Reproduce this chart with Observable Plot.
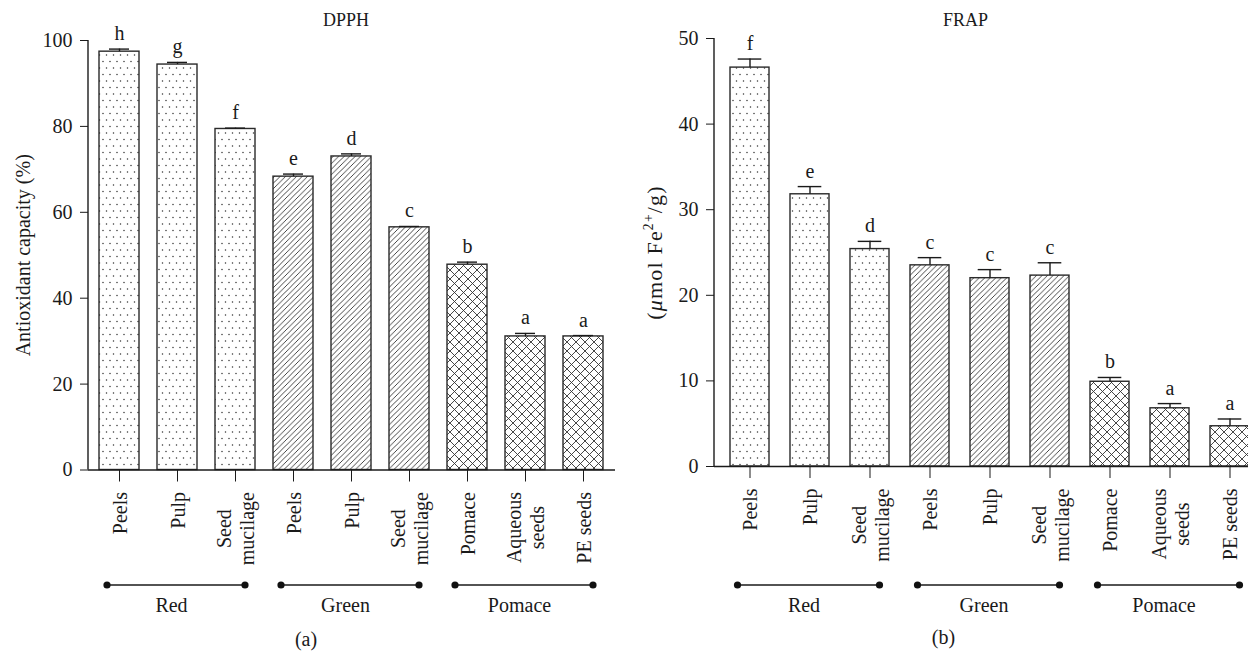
<!DOCTYPE html>
<html>
<head>
<meta charset="utf-8">
<script src="https://cdn.jsdelivr.net/npm/d3@7"></script>
<script src="https://cdn.jsdelivr.net/npm/@observablehq/plot@0.6"></script>
<style>
html, body { margin: 0; padding: 0; background: #fff; overflow: hidden; width: 1248px; height: 655px; }
#chartA { position: absolute; left: 0; top: 0; width: 617px; height: 655px; }
#chartB { position: absolute; left: 630px; top: 0; width: 636px; height: 655px; }
</style>
</head>
<body>
<div id="chartA"></div>
<div id="chartB"></div>
<script>
// ---------- data ----------
const categories = ["Peels", "Pulp", "Seed\nmucilage", "Peels", "Pulp", "Seed\nmucilage", "Pomace", "Aqueous\nseeds", "PE seeds"];
const groups = ["Red", "Red", "Red", "Green", "Green", "Green", "Pomace", "Pomace", "Pomace"];
const groupNames = ["Red", "Green", "Pomace"];

const dpphMean = [97.4, 94.4, 79.4, 68.3, 73.0, 56.5, 47.8, 31.1, 31.1];
const dpphErr = [0.6, 0.5, 0.2, 0.6, 0.6, 0.2, 0.6, 0.7, 0.2];
const dpphLetters = ["h", "g", "f", "e", "d", "c", "b", "a", "a"];
const dpphTicks = [0, 20, 40, 60, 80, 100];

const frapMean = [46.6, 31.8, 25.4, 23.5, 22.0, 22.3, 9.9, 6.8, 4.7];
const frapErr = [1.0, 0.9, 0.9, 0.9, 1.0, 1.5, 0.5, 0.55, 0.85];
const frapLetters = ["f", "e", "d", "c", "c", "c", "b", "a", "a"];
const frapTicks = [0, 10, 20, 30, 40, 50];

// ---------- helpers ----------
const FONT = "'Liberation Serif', 'Times New Roman', serif";
const INK = "#1a1a1a";
const ctx = document.createElement("canvas").getContext("2d");
ctx.font = "20px " + FONT;
const textWidth = (s) => Math.max(...s.split("\n").map((l) => ctx.measureText(l).width));

function defsMark(pfx) {
  return () => {
    const ns = "http://www.w3.org/2000/svg";
    const defs = document.createElementNS(ns, "defs");
    defs.innerHTML = `
      <pattern id="${pfx}-Red" patternUnits="userSpaceOnUse" width="7" height="13">
        <rect width="7" height="13" fill="#fff"/>
        <circle cx="1.5" cy="3" r="0.75" fill="#333"/>
        <circle cx="5" cy="9.5" r="0.75" fill="#333"/>
      </pattern>
      <pattern id="${pfx}-Green" patternUnits="userSpaceOnUse" width="5.5" height="5.5">
        <rect width="5.5" height="5.5" fill="#fff"/>
        <path d="M-1,1 L1,-1 M0,5.5 L5.5,0 M4.5,6.5 L6.5,4.5" stroke="#333" stroke-width="0.9"/>
      </pattern>
      <pattern id="${pfx}-Pomace" patternUnits="userSpaceOnUse" width="9" height="9">
        <rect width="9" height="9" fill="#fff"/>
        <path d="M0,0 L9,9 M0,9 L9,0" stroke="#333" stroke-width="0.9"/>
      </pattern>`;
    return defs;
  };
}

function makeChart(o) {
  const rows = categories.map((c, i) => ({
    id: String(i), label: c, group: groups[i], v: o.means[i], e: o.errs[i], letter: o.letters[i]
  }));
  const H = 655;
  const marginBottom = H - o.axisY;
  const labelDy = 22;
  const groupLineDy = 585 - o.axisY;
  const groupTextDy = 605 - o.axisY;
  const panelDy = o.panelY - o.axisY;

  const marks = [defsMark(o.pfx)];
  for (const g of groupNames) {
    marks.push(Plot.barY(rows.filter((d) => d.group === g), {
      x: "id", y: "v", fill: `url(#${o.pfx}-${g})`, stroke: "#2a2a2a", strokeWidth: 1.4
    }));
  }
  marks.push(
    Plot.ruleX(rows, {x: "id", y1: "v", y2: (d) => d.v + d.e, stroke: "#1a1a1a", strokeWidth: 1.4}),
    Plot.tickY(rows, {x: "id", y: (d) => d.v + d.e, insetLeft: o.capInset, insetRight: o.capInset, stroke: "#1a1a1a", strokeWidth: 1.4}),
    Plot.text(rows, {x: "id", y: (d) => d.v + d.e, text: "letter", dy: -9, lineAnchor: "bottom", fill: INK}),
    Plot.ruleY([0], {stroke: "#1a1a1a", strokeWidth: 1.4}),
    // y axis line
    (index, scales, values, dims) => {
      const g = d3.create("svg:g");
      g.append("line")
        .attr("x1", dims.marginLeft).attr("x2", dims.marginLeft)
        .attr("y1", scales.y(o.domain[0])).attr("y2", scales.y(o.domain[1]))
        .attr("stroke", "#1a1a1a").attr("stroke-width", 1.4);
      return g.node();
    },
    // group brackets (line + end dots)
    (index, scales, values, dims) => {
      const g = d3.create("svg:g");
      const bw = scales.x.bandwidth();
      for (const name of groupNames) {
        const ids = rows.filter((d) => d.group === name).map((d) => d.id);
        const x1 = scales.x(ids[0]) + bw / 2 - 12;
        const x2 = scales.x(ids[ids.length - 1]) + bw / 2 + 10;
        const y = scales.y(0) + groupLineDy;
        g.append("line").attr("x1", x1).attr("x2", x2).attr("y1", y).attr("y2", y)
          .attr("stroke", "#1a1a1a").attr("stroke-width", 1.5);
        g.append("circle").attr("cx", x1).attr("cy", y).attr("r", 3.6).attr("fill", "#111");
        g.append("circle").attr("cx", x2).attr("cy", y).attr("r", 3.6).attr("fill", "#111");
      }
      return g.node();
    }
  );
  // category labels (rotated, each line centred, block top just below the ticks)
  for (const d of rows) {
    marks.push(Plot.text([d], {
      x: "id", y: 0, text: "label", rotate: -90, textAnchor: "middle", lineAnchor: "middle",
      lineHeight: 1.15, dy: labelDy + textWidth(d.label) / 2, fill: INK
    }));
  }
  // group labels
  const mids = groupNames.map((name) => {
    const ids = rows.filter((d) => d.group === name).map((d) => d.id);
    return {id: ids[Math.floor(ids.length / 2)], name};
  });
  marks.push(Plot.text(mids, {x: "id", y: 0, text: "name", dy: groupTextDy, dx: -6, fill: INK}));
  // title, y label, panel letter
  marks.push(
    Plot.text([o.title], {frameAnchor: "top", dy: o.titleY - o.marginTop, dx: o.titleDx, fontSize: 18, fill: INK}),
    Plot.text([o.ylabel], {frameAnchor: "left", rotate: -90, textAnchor: "middle", lineAnchor: "middle",
      dx: o.ylabelX - o.marginLeft, fontSize: o.ylabelSize, fill: INK}),
    Plot.text([o.panel], {frameAnchor: "bottom", dy: panelDy, dx: o.panelDx, fill: INK})
  );

  const chart = Plot.plot({
    width: o.width,
    height: H,
    marginLeft: o.marginLeft,
    marginRight: o.marginRight,
    marginTop: o.marginTop,
    marginBottom,
    style: {fontFamily: FONT, fontSize: "20px", color: "#1a1a1a", background: "transparent", overflow: "visible"},
    x: {domain: rows.map((d) => d.id), paddingInner: o.paddingInner, paddingOuter: o.paddingOuter,
        tickSize: 12, tickFormat: () => "", label: null},
    y: {domain: o.domain, ticks: o.ticks, tickSize: 8, tickPadding: 8, label: null},
    marks
  });
  return chart;
}

const chartA = makeChart({
  pfx: "pa", width: 617, marginLeft: 88, marginRight: 2, marginTop: 40, axisY: 469.5,
  domain: [0, 100], ticks: dpphTicks, means: dpphMean, errs: dpphErr, letters: dpphLetters,
  paddingInner: 0.31, paddingOuter: 0.19, capInset: 10,
  title: "DPPH", titleY: 13, titleDx: -6,
  ylabel: "Antioxidant capacity (%)", ylabelX: 23, ylabelSize: 20,
  panel: "(a)", panelY: 645, panelDx: -46
});
document.getElementById("chartA").appendChild(chartA);

const chartB = makeChart({
  pfx: "pb", width: 636, marginLeft: 84, marginRight: 2, marginTop: 38, axisY: 466,
  domain: [0, 50], ticks: frapTicks, means: frapMean, errs: frapErr, letters: frapLetters,
  paddingInner: 0.35, paddingOuter: 0.21, capInset: 7.7,
  title: "FRAP", titleY: 13, titleDx: -24,
  ylabel: "(μmol Fe2+/g)", ylabelX: 24, ylabelSize: 22,
  panel: "(b)", panelY: 643, panelDx: -46
});
document.getElementById("chartB").appendChild(chartB);

// rich text for the FRAP y label: italic mu and superscript 2+
(function () {
  const t = Array.from(chartB.querySelectorAll("text")).find((n) => n.textContent === "(μmol Fe2+/g)");
  if (!t) return;
  const ns = "http://www.w3.org/2000/svg";
  t.setAttribute("letter-spacing", "1.2");
  while (t.firstChild) t.removeChild(t.firstChild);
  const parts = [
    {s: "(", style: {}},
    {s: "μ", style: {"font-style": "italic"}},
    {s: "mol Fe", style: {}},
    {s: "2+", style: {"font-size": "0.62em"}, dy: "-0.6em"},
    {s: "/g)", style: {}, dy: "0.37em"}
  ];
  for (const p of parts) {
    const ts = document.createElementNS(ns, "tspan");
    ts.textContent = p.s;
    for (const k in p.style) ts.setAttribute(k, p.style[k]);
    if (p.dy) ts.setAttribute("dy", p.dy);
    t.appendChild(ts);
  }
})();
</script>
</body>
</html>
